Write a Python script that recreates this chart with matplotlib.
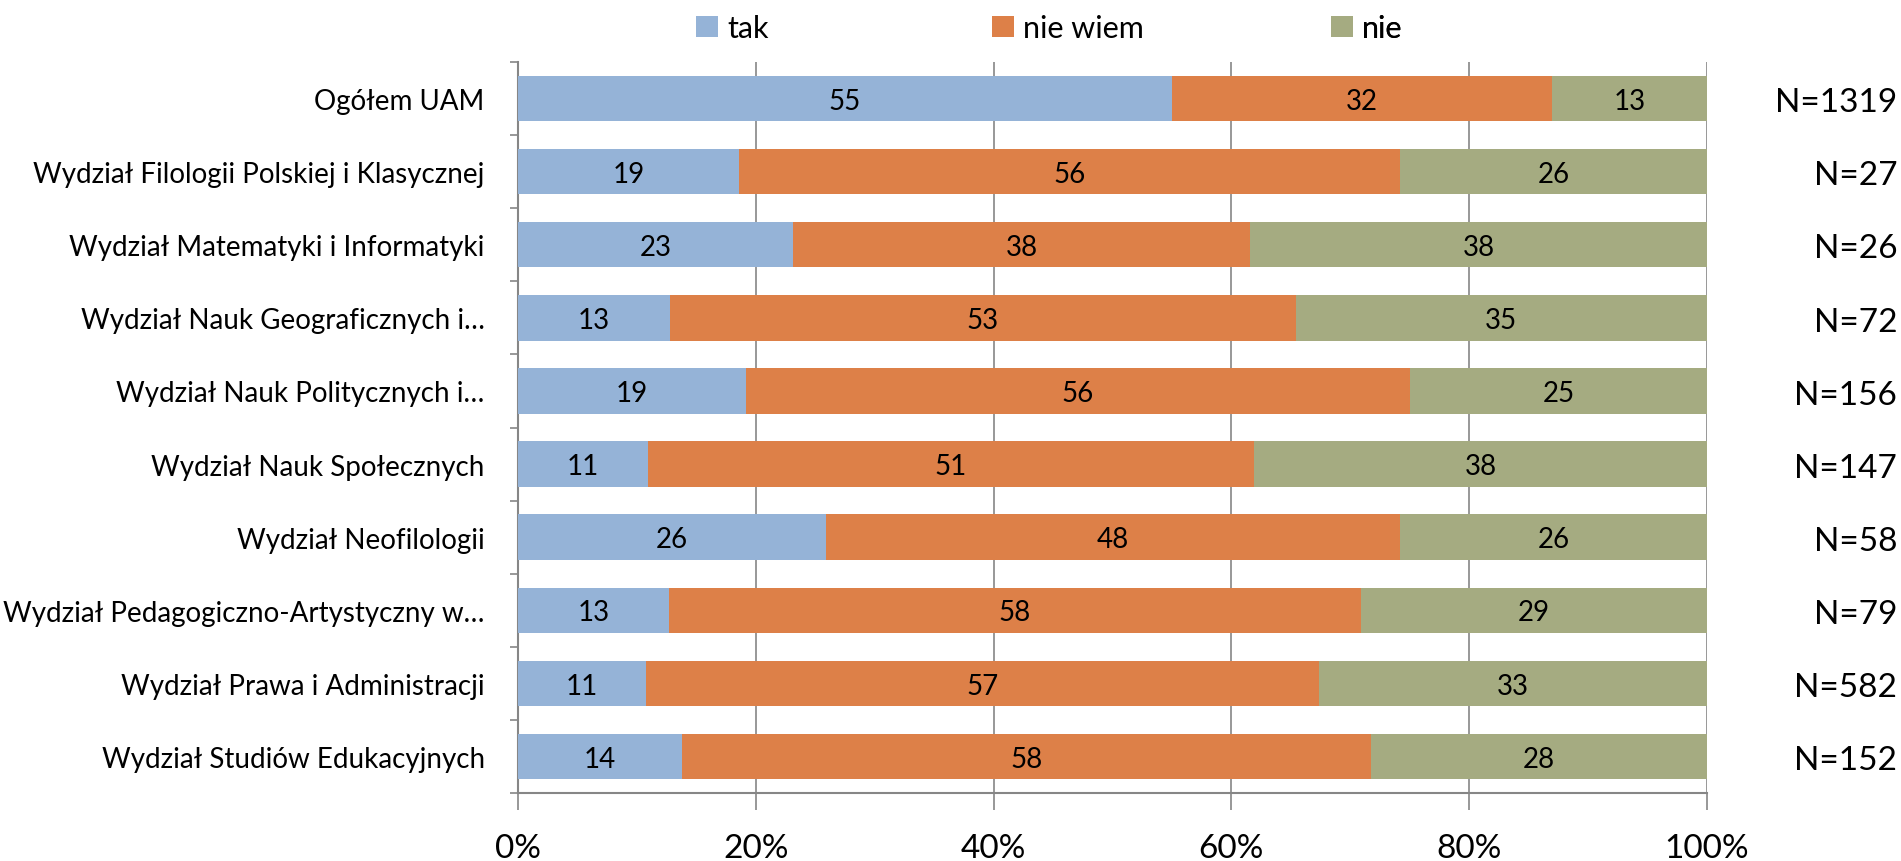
import matplotlib.pyplot as plt
import matplotlib.transforms as mtransforms
from matplotlib.ticker import MultipleLocator, FuncFormatter
import numpy as np

plt.rcParams['font.family'] = ['Lato', 'DejaVu Sans']

categories = ['Ogółem UAM',
              'Wydział Filologii Polskiej i Klasycznej',
              'Wydział Matematyki i Informatyki',
              'Wydział Nauk Geograficznych i…',
              'Wydział Nauk Politycznych i…',
              'Wydział Nauk Społecznych',
              'Wydział Neofilologii',
              'Wydział Pedagogiczno-Artystyczny w…',
              'Wydział Prawa i Administracji',
              'Wydział Studiów Edukacyjnych']
n_labels = ['N=1319', 'N=27', 'N=26', 'N=72', 'N=156', 'N=147', 'N=58', 'N=79', 'N=582', 'N=152']

tak = [55.0, 18.6, 23.1, 12.8, 19.2, 10.9, 25.9, 12.7, 10.8, 13.8]
nie_wiem = [32.0, 55.6, 38.5, 52.6, 55.8, 51.0, 48.3, 58.2, 56.6, 57.9]
nie = [13.0, 25.8, 38.5, 34.6, 25.0, 38.1, 25.9, 29.1, 32.6, 28.3]

series = [('tak', tak, '#95b3d7'), ('nie wiem', nie_wiem, '#dd8048'), ('nie', nie, '#a5ab81')]
legend_x = [0.150, 0.399, 0.684]

fig = plt.figure(figsize=(19.01, 8.62), dpi=100)
ax = fig.add_axes([518 / 1901, 1 - 794 / 862, 1189 / 1901, (794 - 63) / 862])

y = np.arange(len(categories))
left = np.zeros(len(categories))
bars = []
for name, vals, col in series:
    vals = np.array(vals)
    b = ax.barh(y, vals, left=left, height=0.62, color=col, label=name, zorder=3)
    bars.append(b)
    for yi, l, v in zip(y, left, vals):
        ax.text(l + v / 2, yi + 0.03, f'{v:.0f}', ha='center', va='center', fontsize=20, zorder=4)
    left += vals

ax.set_xlim(0, 100)
ax.set_ylim(len(categories) - 0.5, -0.5)
ax.xaxis.set_major_locator(MultipleLocator(20))
ax.xaxis.set_major_formatter(FuncFormatter(lambda v, p: f'{v:.0f}%'))
ax.grid(axis='x', color='#868686', linewidth=1.2, zorder=0)
ax.tick_params(axis='x', length=12, color='#868686', width=1.2, labelsize=24, pad=17)

ax.set_yticks(y)
ax.set_yticklabels(categories, fontsize=20)
ax.set_yticks(np.arange(len(categories) + 1) - 0.5, minor=True)
ax.tick_params(axis='y', which='major', length=0, pad=24)
ax.tick_params(axis='y', which='minor', length=6, color='#868686', width=1.2)

for s in ['top', 'right']:
    ax.spines[s].set_visible(False)
for s in ['left', 'bottom']:
    ax.spines[s].set_color('#868686')
    ax.spines[s].set_linewidth(1.5)

tr = mtransforms.blended_transform_factory(ax.transAxes, ax.transData)
for yi, lab in zip(y, n_labels):
    ax.text(1.16, yi + 0.05, lab, transform=tr, ha='right', va='center', fontsize=24)

for b, (name, vals, col), lx in zip(bars, series, legend_x):
    leg = ax.legend([b], [name], loc='lower left', bbox_to_anchor=(lx, 1.027), frameon=False,
                    fontsize=22, handlelength=0.7, handleheight=0.7, handletextpad=0.3,
                    borderpad=0, borderaxespad=0)
    ax.add_artist(leg)

fig.savefig('out.png', dpi=100)
